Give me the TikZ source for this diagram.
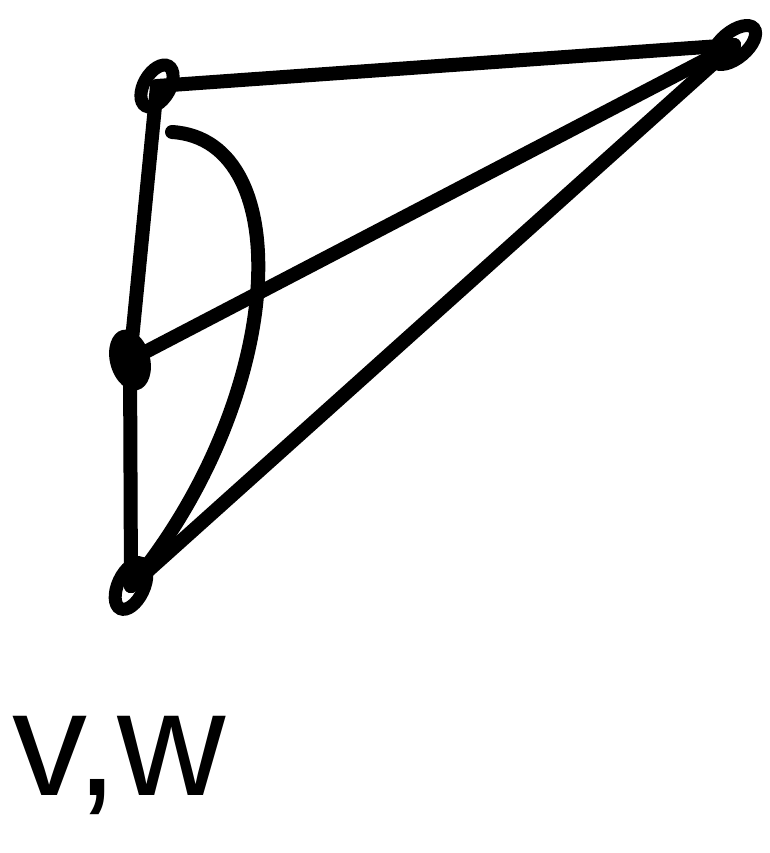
\documentclass[tikz,border=0pt]{standalone}
\usepackage{fontspec}
\setmainfont{Liberation Sans}
\usetikzlibrary{calc,shapes.geometric,backgrounds}
\definecolor{ink}{HTML}{000000}

\begin{document}
\begin{tikzpicture}[x=1pt,y=-1pt,
    pen/.style={draw=ink,line width=14pt,line cap=round,line join=round},
    vtx/.style={ellipse,draw=ink,line width=13pt,inner sep=0pt,minimum width=26pt,minimum height=46pt},
    blob/.style={ellipse,fill=ink,inner sep=0pt,minimum width=40pt,minimum height=62pt}]
        \useasboundingbox (0,0) rectangle (769,853);
        % vertices
        \node[vtx,rotate=-30] (tl) at (157,86) {};
        \node[vtx,rotate=-50,minimum height=52pt] (tr) at (734,45) {};
        \node[blob,rotate=15] (mid) at (130,360) {};
        \node[vtx,rotate=-25,minimum height=50pt] (bl) at (131,586) {};
        \coordinate (arcstart) at (172,132);
        % edges
        \begin{scope}[on background layer]
        \draw[pen] (tl.center) -- (tr.center);
        \draw[pen] (tr.center) -- (mid.center);
        \draw[pen] (tr.center) -- (bl.center);
        \draw[pen] (tl.center) -- (mid.center) -- (bl.center);
        \draw[pen] (arcstart) .. controls (300,140) and (285,400) .. (bl.center);
        \end{scope}
        \node[anchor=base west,font=\fontsize{150}{150}\selectfont,inner sep=0pt] (lbl) at (12,795) {v,w};
      \end{tikzpicture}
\end{document}
